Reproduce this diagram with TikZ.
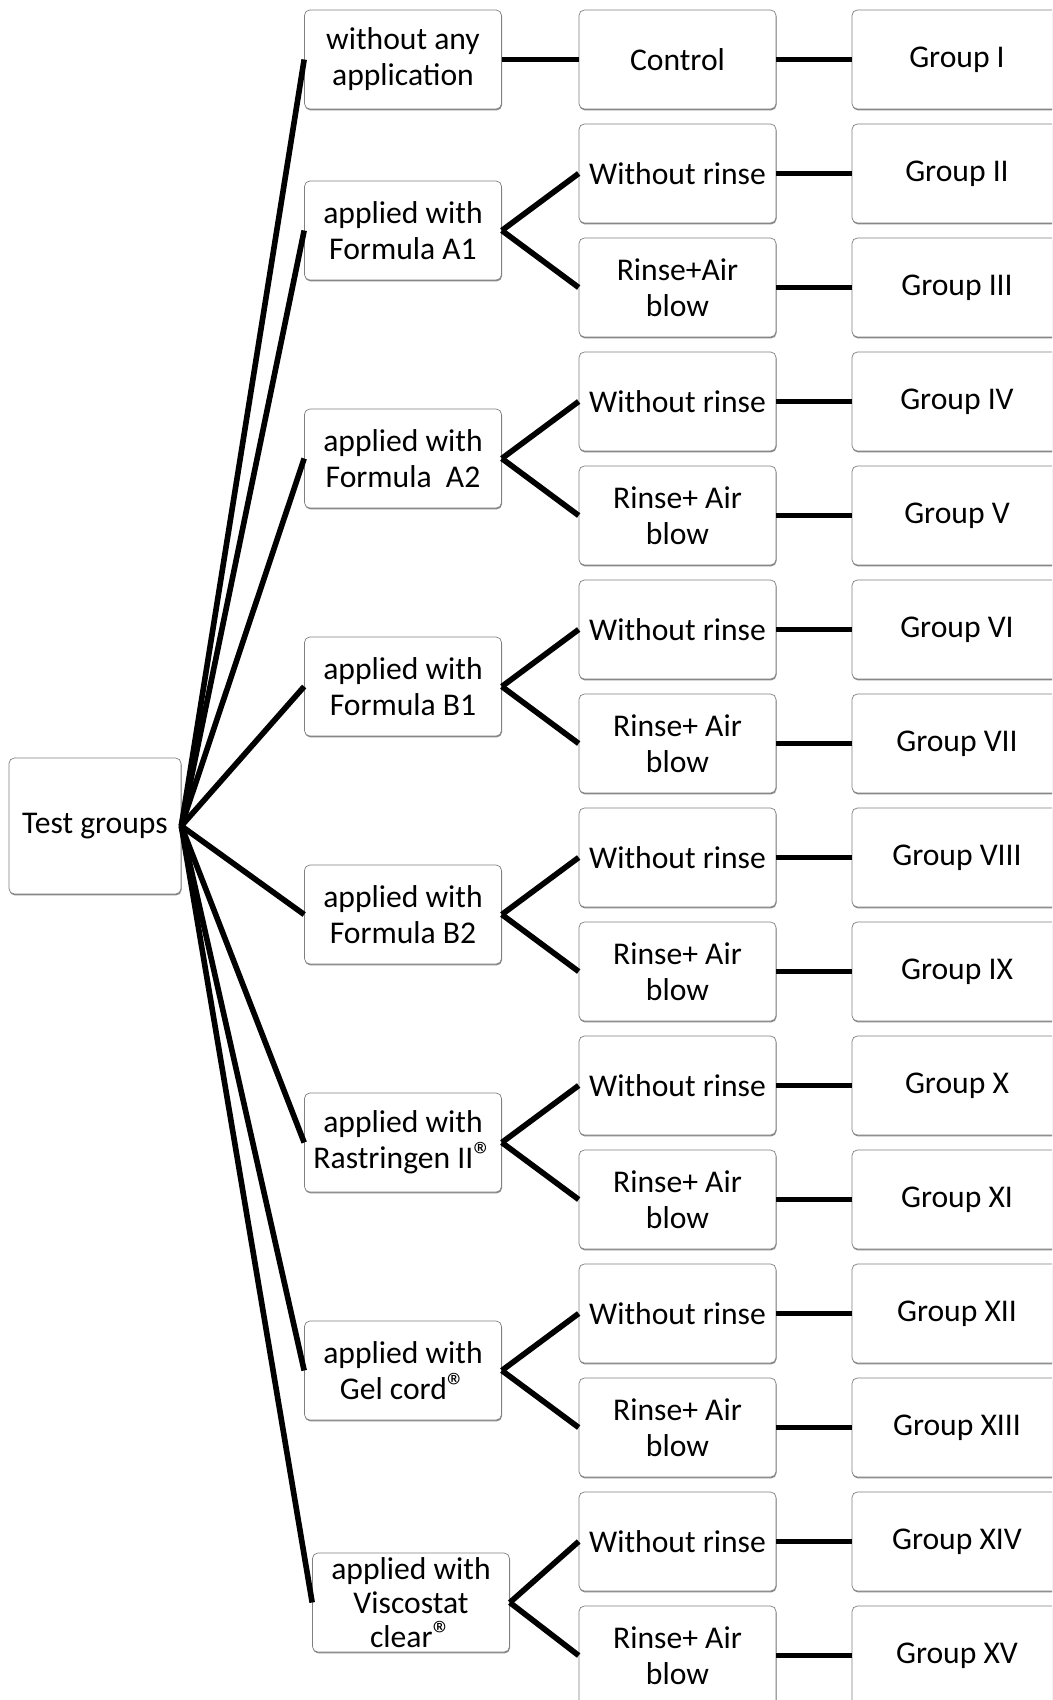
\documentclass[tikz,border=0pt]{standalone}
\usepackage{fontspec}
\setmainfont{Carlito}
\usetikzlibrary{shadows}
\newcommand\regmark{\scalebox{1.2}{®}}
\tikzset{
  box/.style={draw=black!50, fill=white, rounded corners=3pt, align=center,
    minimum width=3.94cm, minimum height=1.98cm, inner sep=1pt,
    drop shadow={shadow xshift=0.3pt, shadow yshift=-0.8pt, fill=black!45, opacity=1},
    font=\fontsize{18}{20.5}\selectfont},
  grpbox/.style={box, minimum width=4.2cm},
  link/.style={line width=3.2pt}
}
\begin{document}
\begin{tikzpicture}[x=0.02cm, y=-0.02cm]
    \clip (0,0) rectangle (1052,1700);

    \node[box, minimum width=3.44cm, minimum height=2.72cm] (root) at (95,826) {Test groups};

    % first level
    \node[box] (app0) at (403,59.5)   {without any\\application};
    \node[box] (app1) at (403,230.5)  {applied with\\Formula A1};
    \node[box] (app2) at (403,458.5)  {applied with\\Formula\ \ A2};
    \node[box] (app3) at (403,686.5)  {applied with\\Formula B1};
    \node[box] (app4) at (403,914.5)  {applied with\\Formula B2};
    \node[box] (app5) at (403,1142.5) {applied with\\Rastringen II\regmark};
    \node[box] (app6) at (403,1370.5) {applied with\\Gel cord\regmark};
    \node[box, inner sep=0pt, font=\fontsize{18}{19.5}\selectfont] (app7) at (411,1602.5)
        {applied with\\Viscostat\\clear\regmark};

    % second level
    \node[box] (rin0)  at (677.5,59.5)   {Control};
    \node[box] (rin1)  at (677.5,173.5)  {Without rinse};
    \node[box] (rin2)  at (677.5,287.5)  {Rinse+Air\\blow};
    \node[box] (rin3)  at (677.5,401.5)  {Without rinse};
    \node[box] (rin4)  at (677.5,515.5)  {Rinse+ Air\\blow};
    \node[box] (rin5)  at (677.5,629.5)  {Without rinse};
    \node[box] (rin6)  at (677.5,743.5)  {Rinse+ Air\\blow};
    \node[box] (rin7)  at (677.5,857.5)  {Without rinse};
    \node[box] (rin8)  at (677.5,971.5)  {Rinse+ Air\\blow};
    \node[box] (rin9)  at (677.5,1085.5) {Without rinse};
    \node[box] (rin10) at (677.5,1199.5) {Rinse+ Air\\blow};
    \node[box] (rin11) at (677.5,1313.5) {Without rinse};
    \node[box] (rin12) at (677.5,1427.5) {Rinse+ Air\\blow};
    \node[box] (rin13) at (677.5,1541.5) {Without rinse};
    \node[box] (rin14) at (677.5,1655.5) {Rinse+ Air\\blow};

    % groups
    \node[grpbox] (grp0)  at (957,59.5)   {Group I};
    \node[grpbox] (grp1)  at (957,173.5)  {Group II};
    \node[grpbox] (grp2)  at (957,287.5)  {Group III};
    \node[grpbox] (grp3)  at (957,401.5)  {Group IV};
    \node[grpbox] (grp4)  at (957,515.5)  {Group V};
    \node[grpbox] (grp5)  at (957,629.5)  {Group VI};
    \node[grpbox] (grp6)  at (957,743.5)  {Group VII};
    \node[grpbox] (grp7)  at (957,857.5)  {Group VIII};
    \node[grpbox] (grp8)  at (957,971.5)  {Group IX};
    \node[grpbox] (grp9)  at (957,1085.5) {Group X};
    \node[grpbox] (grp10) at (957,1199.5) {Group XI};
    \node[grpbox] (grp11) at (957,1313.5) {Group XII};
    \node[grpbox] (grp12) at (957,1427.5) {Group XIII};
    \node[grpbox] (grp13) at (957,1541.5) {Group XIV};
    \node[grpbox] (grp14) at (957,1655.5) {Group XV};

    % connectors
    \foreach \i in {0,...,7}
        \draw[link] (root.east) -- (app\i.west);
    \draw[link] (app0.east) -- (rin0.west);
    \foreach \i in {1,...,7} {
        \pgfmathtruncatemacro{\up}{2*\i-1}
        \pgfmathtruncatemacro{\dn}{2*\i}
        \draw[link] (app\i.east) -- (rin\up.west);
        \draw[link] (app\i.east) -- (rin\dn.west);
    }
    \foreach \i in {0,...,14}
        \draw[link] (rin\i.east) -- (grp\i.west);

\end{tikzpicture}
\end{document}
